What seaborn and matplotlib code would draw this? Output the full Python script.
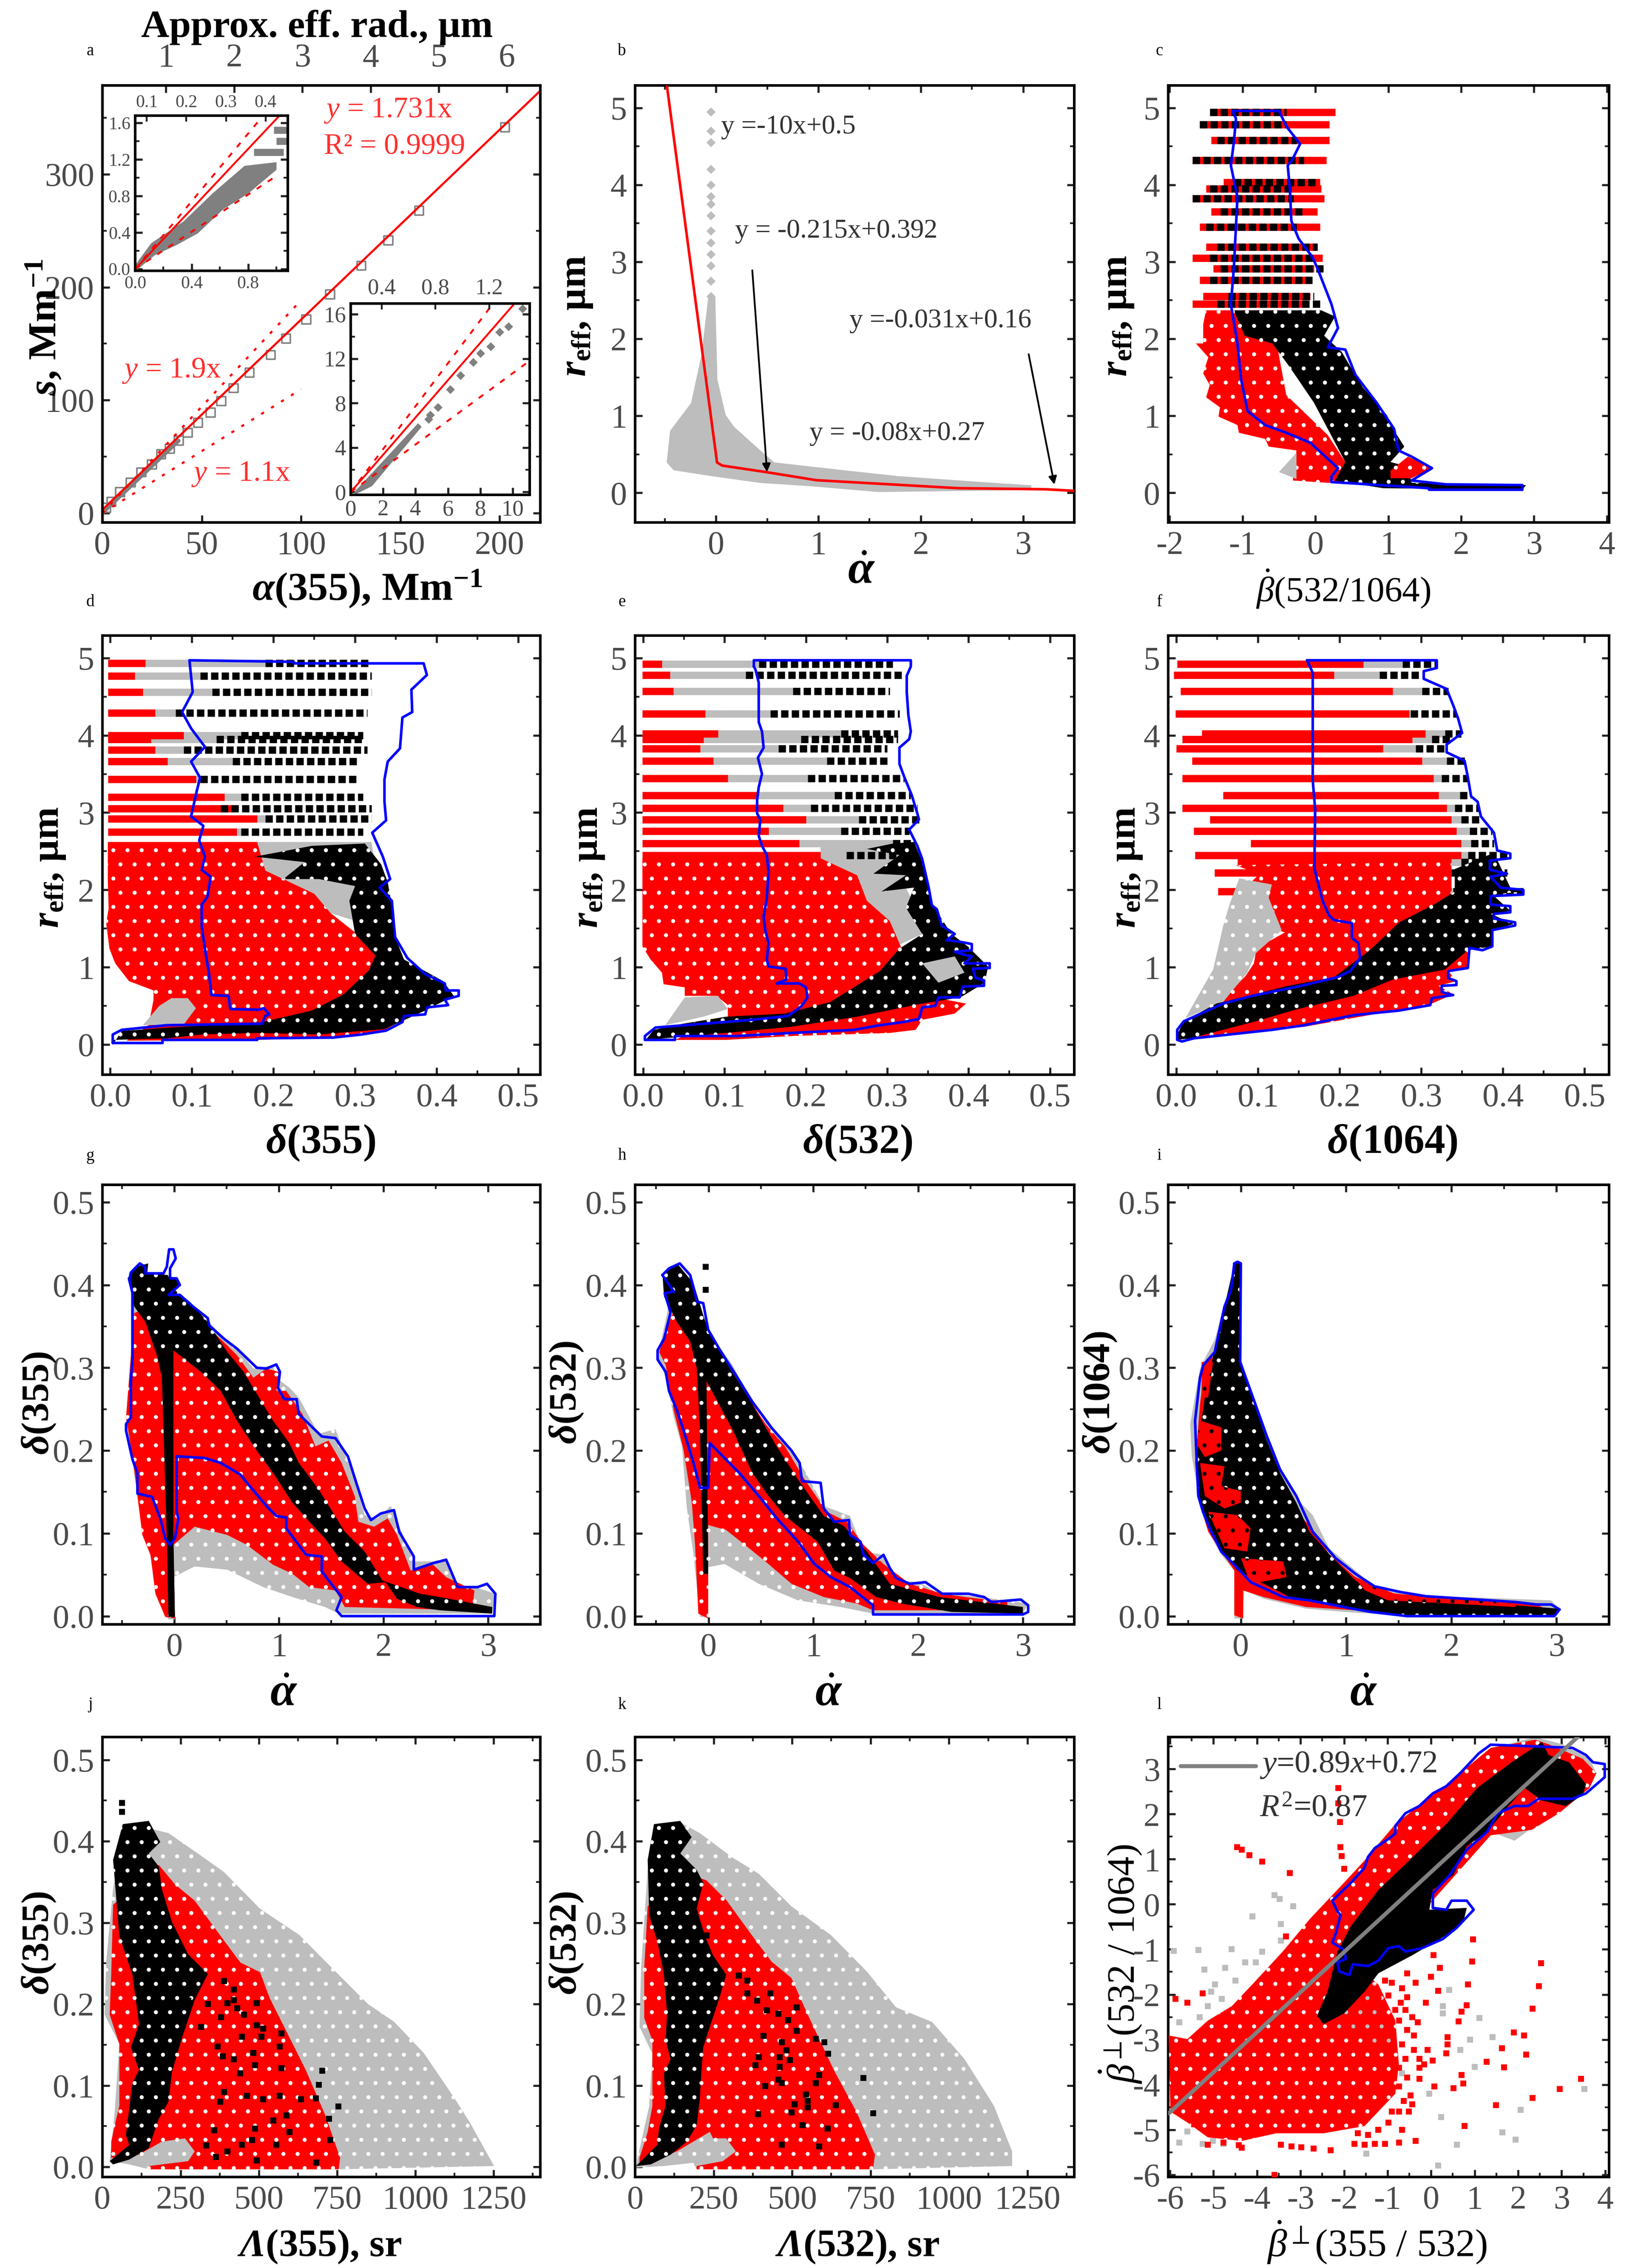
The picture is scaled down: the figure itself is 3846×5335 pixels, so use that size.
import numpy as np
import matplotlib
matplotlib.use("Agg")
import matplotlib.pyplot as plt
import seaborn as sns
from matplotlib.ticker import MultipleLocator, FixedLocator

W, H = 3846, 5335
RED = "#ff0000"
GREY = "#bdbdbd"
BLUE = "#0000ff"

# --- panel a
a_x = [202.7, 159.5, 144, 130.4, 114.6, 102.7, 92.5, 84.8, 74.1, 66, 59.8, 54.5, 48.2, 42.9, 38.4, 33.9, 29.5, 25, 19.6, 14.3, 8.9, 4.5, 1.8]
a_y = [341.6, 267.8, 241.5, 219, 193.6, 171.5, 154.4, 140, 124.3, 110.6, 99, 89, 80, 71, 64, 57, 52, 43, 36, 27, 18.5, 9.8, 4.5]
a_low_x = [0, 38.4]
a_low_y = [0, 64]
a_fit_x = [0, 220.5]
a_fit_y = [3, 374]
a_up_x = [0, 99]
a_up_y = [0, 186.5]
a_lo_x = [0, 100]
a_lo_y = [0, 109.6]

in1_grey = [(0, .043), (.114, .283), (.343, .522), (.546, .826), (.774, 1.13), (1.0, 1.17), (1.0, 1.087), (.8, .826), (.622, .652), (.444, .391), (.292, .261), (.14, .152), (.013, -.01)]
in1_lev = [1.52, 1.4, 1.28]
in1_lev_x0 = [.98, 1.0, .84]
in1_lev_x1 = [1.08, 1.08, 1.05]
in1_fit_x = [0, 1.015]
in1_fit_y = [0, 1.67]
in1_up_x = [0, .9]
in1_up_y = [0, 1.67]
in1_lo_x = [0, 1.0]
in1_lo_y = [0, 1.02]

in2_grey = [(.22, 0), (4.16, 6.2), (4.38, 5.87), (1.31, .53), (.33, -.18)]
in2_x = [4.81, 4.9, 5.38, 6.13, 6.78, 7.55, 8.0, 8.64, 9.19, 9.74, 10.6]
in2_y = [6.58, 6.94, 7.65, 9.25, 10.5, 11.7, 12.5, 13.1, 14.4, 14.9, 16.5]
in2_fit_x = [0, 10.07]
in2_fit_y = [0, 16.9]
in2_up_x = [0, 8.75]
in2_up_y = [0, 16.9]
in2_lo_x = [0, 10.94]
in2_lo_y = [0, 11.7]

# --- panel b
b_grey = [(-.075, 2.55), (-.007, 2.55), (.014, 1.47), (.095, 1.01), (.177, .857), (.434, .55), (.57, .395), (1.25, .293), (1.79, .216), (2.61, .139), (3.08, .098), (3.08, .036), (1.59, .01), (.91, .087), (.434, .128), (-.04, .216), (-.414, .293), (-.482, .395), (-.448, .806), (-.244, 1.165), (-.143, 1.78)]
b_spike_y = [4.95, 4.7, 4.55, 4.2, 4.0, 3.85, 3.75, 3.6, 3.4, 3.25, 3.1, 2.95, 2.75, 2.55]
b_spike_x = [-.05] * len(b_spike_y)
b_line_x = [-.48, .01, .06, .5, .98, 2.37, 3.22, 3.5]
b_line_y = [5.29, .395, .354, .267, .164, .06, .046, .026]

# --- panel c: one row per size level
c_lev = [4.94, 4.78, 4.58, 4.32, 4.03, 3.95, 3.82, 3.65, 3.45, 3.19, 3.05, 2.91, 2.76, 2.55, 2.45]
c_start = [-1.45, -1.59, -1.43, -1.69, -1.26, -1.5, -1.69, -1.43, -1.59, -1.5, -1.69, -1.4, -1.59, -1.54, -1.69]
c_red_end = [.27, .19, .19, .15, .06, .08, .12, .03, .06, .03, .1, -.02, -.07, -.07, -.11]
c_blk_start = [-1.45, -1.59, -1.35, -1.69, -1.12, -1.45, -1.69, -1.3, -1.5, -1.35, -1.45, -1.3, -1.45, -1.2, -1.35]
c_blk_end = [-.4, -.4, -.26, -.16, .03, -.3, -.3, -.16, -.26, .03, -.02, .12, -.04, -.02, .08]
c_red = [(-1.5, 2.37), (-1.54, 2.19), (-1.54, 1.94), (-1.64, 1.94), (-1.47, 1.76), (-1.54, 1.55), (-1.45, 1.4), (-1.5, 1.24), (-1.31, 1.11), (-1.33, .99), (-1.07, .88), (-1.05, .78), (-.69, .7), (-.64, .6), (-.26, .55), (-.31, .16), (.17, .13), (.74, .13), (.41, .4), (.17, .75), (-.4, 1.27), (-.5, 1.78), (-.59, 2.37)]
c_grey = [(-.5, .27), (-.26, .52), (-.26, .18)]
c_black = [(-1.12, 2.37), (-.97, 2.04), (-.59, 1.94), (-.35, 1.63), (-.02, 1.17), (.41, .4), (.27, .16), (.93, .06), (2.84, .04), (2.89, .1), (1.32, .13), (1.27, .34), (1.03, .4), (1.22, .6), (1.08, .81), (.98, 1.01), (.65, 1.37), (.36, 1.83), (.12, 2.04), (.27, 2.29), (.08, 2.37)]
c_patch = [(1.03, .29), (1.27, .47), (1.6, .32), (1.32, .19), (1.03, .19)]
c_blue = [(-1.14, 4.96), (-.5, 4.96), (-.4, 4.76), (-.21, 4.53), (-.32, 4.32), (-.38, 4.25), (-.35, 3.94), (-.33, 3.53), (-.23, 3.3), (-.04, 3.06), (.03, 2.91), (.22, 2.45), (.31, 2.14), (.17, 1.89), (.41, 1.86), (.55, 1.53), (.84, 1.17), (1.08, .83), (1.14, .55), (1.32, .47), (1.6, .32), (1.32, .16), (1.79, .11), (2.84, .1), (2.84, .04), (1.56, .04), (1.56, .06), (.22, .14), (.22, .21), (.31, .32), (-.07, .65), (-.4, .78), (-.69, .88), (-.93, 1.06), (-1.02, 1.47), (-1.07, 1.94), (-1.16, 2.45), (-1.12, 2.91), (-1.07, 3.84), (-1.16, 4.25), (-1.12, 4.55), (-1.09, 4.86)]

# --- panel d
d_lev = [4.93, 4.77, 4.56, 4.29, 4.0, 3.95, 3.81, 3.66, 3.43, 3.2, 3.05, 2.92, 2.75]
d_start = [-.003] * len(d_lev)
d_red_end = [.043, .03, .04, .055, .09, .05, .055, .07, .105, .14, .15, .18, .155]
d_blk_start = [.19, .11, .125, .08, .16, .13, .09, .15, .11, .16, .135, .19, .16]
d_blk_end = [.316, .32, .32, .315, .31, .31, .315, .305, .305, .31, .32, .32, .31]
d_grey = [(.18, 2.62), (.32, 2.62), (.33, 2.0), (.3, 1.6), (.27, 1.7), (.24, 1.9), (.19, 2.25)]
d_red = [(-.003, 2.62), (-.003, 2.1), (-.002, 1.76), (-.005, 1.57), (-.001, 1.24), (.006, 1.05), (.023, .82), (.053, .7), (.053, .58), (.047, .25), (.02, .05), (.18, .06), (.27, .09), (.33, .15), (.36, .33), (.38, .44), (.325, 1.15), (.3, 1.45), (.27, 1.7), (.25, 1.95), (.19, 2.25), (.18, 2.62)]
d_pocket = [(.04, .25), (.06, .5), (.075, .6), (.095, .6), (.105, .47), (.09, .26)]
d_black = [(.005, .03), (.014, .175), (.073, .22), (.186, .29), (.247, .44), (.286, .65), (.317, .96), (.325, 1.15), (.3, 1.43), (.293, 1.86), (.3, 2.05), (.256, 2.14), (.212, 2.14), (.238, 2.36), (.177, 2.43), (.247, 2.57), (.312, 2.6), (.332, 2.33), (.34, 2.1), (.345, 1.8), (.349, 1.39), (.36, 1.1), (.408, .82), (.421, .63), (.386, .44), (.336, .2), (.256, .13), (.18, .15), (.112, .13), (.069, .08), (.003, .06)]
d_blue = [(.003, .02), (.003, .13), (.014, .19), (.069, .25), (.186, .27), (.19, .37), (.195, .39), (.188, .47), (.182, .45), (.147, .46), (.145, .63), (.124, .64), (.121, .91), (.116, 1.24), (.112, 1.53), (.112, 1.81), (.119, 1.91), (.123, 2.17), (.112, 2.26), (.116, 2.43), (.109, 2.64), (.114, 2.83), (.099, 2.95), (.106, 3.28), (.11, 3.45), (.099, 3.66), (.116, 3.85), (.099, 4.09), (.088, 4.3), (.101, 4.56), (.097, 4.97), (.225, 4.95), (.225, 4.93), (.384, 4.93), (.388, 4.78), (.369, 4.59), (.37, 4.3), (.358, 4.23), (.355, 3.83), (.34, 3.66), (.336, 3.43), (.336, 3.14), (.338, 2.9), (.321, 2.74), (.334, 2.43), (.343, 2.14), (.33, 2.03), (.345, 1.86), (.349, 1.39), (.364, 1.12), (.386, .91), (.41, .79), (.411, .7), (.427, .7), (.427, .63), (.41, .58), (.414, .51), (.388, .48), (.386, .39), (.36, .37), (.358, .29), (.338, .18), (.308, .13), (.273, .09), (.18, .08), (.18, .06), (.064, .06), (.064, .02)]

# --- panel e
e_lev = [4.92, 4.78, 4.57, 4.28, 4.02, 3.95, 3.83, 3.67, 3.44, 3.22, 3.06, 2.91, 2.76, 2.6, 2.45]
e_start = [-.001] * len(e_lev)
e_red_end = [.023, .033, .037, .076, .092, .074, .07, .086, .104, .14, .172, .2, .154, .192, .218]
e_blk_start = [.142, .126, .184, .156, .243, .194, .166, .226, .202, .235, .206, .265, .243, .307, .25]
e_blk_end = [.307, .319, .303, .315, .313, .313, .3, .303, .321, .329, .337, .339, .327, .333, .339]
e_red = [(-.001, 2.41), (-.001, 1.27), (.009, 1.1), (.023, .93), (.025, .78), (.051, .74), (.051, .63), (.09, .63), (.104, .51), (.104, .36), (.039, .06), (.102, .06), (.182, .11), (.303, .15), (.335, .19), (.343, .32), (.383, .4), (.397, .53), (.367, .59), (.331, .89), (.315, 1.31), (.303, 1.6), (.275, 1.86), (.263, 2.19), (.218, 2.41)]
e_pocket = [(.027, .25), (.051, .61), (.092, .63), (.104, .46), (.074, .36)]
e_grey = [(.218, 2.6), (.323, 2.6), (.331, 2.36), (.323, 2.03), (.335, 1.77), (.343, 1.43), (.315, 1.29), (.303, 1.6), (.275, 1.86), (.263, 2.19), (.218, 2.41)]
e_black = [(.003, .06), (.013, .19), (.049, .27), (.102, .36), (.174, .4), (.23, .55), (.291, .95), (.315, 1.24), (.343, 1.43), (.323, 1.77), (.333, 2.03), (.293, 1.98), (.323, 2.19), (.283, 2.21), (.303, 2.36), (.315, 2.45), (.275, 2.53), (.307, 2.6), (.333, 2.62), (.343, 2.36), (.351, 2.1), (.355, 1.82), (.379, 1.43), (.399, 1.27), (.424, 1.01), (.42, .8), (.39, .61), (.343, .53), (.263, .36), (.182, .23), (.102, .15)]
e_streak = [(.343, 1.05), (.383, 1.14), (.395, .93), (.363, .8)]
e_blue = [(.136, 4.89), (.136, 4.97), (.329, 4.97), (.329, 4.89), (.324, 4.77), (.324, 4.56), (.326, 4.26), (.329, 4.05), (.327, 3.95), (.315, 3.84), (.315, 3.63), (.321, 3.46), (.33, 3.23), (.337, 2.99), (.339, 2.91), (.327, 2.78), (.337, 2.57), (.343, 2.4), (.351, 2.03), (.355, 1.8), (.361, 1.75), (.367, 1.54), (.383, 1.43), (.373, 1.35), (.389, 1.33), (.404, 1.3), (.404, 1.22), (.383, 1.2), (.395, 1.16), (.404, 1.14), (.395, 1.05), (.426, 1.05), (.426, .99), (.405, .98), (.409, .86), (.419, .83), (.419, .76), (.393, .75), (.389, .61), (.363, .61), (.359, .5), (.343, .48), (.339, .33), (.319, .29), (.291, .25), (.259, .19), (.222, .17), (.182, .15), (.114, .11), (.039, .11), (.039, .06), (.002, .06), (.002, .11), (.015, .22), (.051, .25), (.134, .32), (.178, .37), (.194, .49), (.202, .61), (.2, .74), (.192, .79), (.164, .79), (.176, .84), (.175, .98), (.154, 1.01), (.152, 1.1), (.154, 1.31), (.15, 1.48), (.148, 1.65), (.152, 1.9), (.154, 2.24), (.152, 2.45), (.146, 2.57), (.142, 2.7), (.144, 2.91), (.14, 2.99), (.14, 3.16), (.142, 3.33), (.146, 3.5), (.141, 3.71), (.148, 3.84), (.146, 4.05), (.142, 4.17), (.142, 4.68), (.138, 4.85)]

# --- panel f
f_lev = [4.92, 4.78, 4.57, 4.28, 4.02, 3.95, 3.83, 3.67, 3.44, 3.22, 3.06, 2.91, 2.76, 2.6, 2.45, 2.36, 2.22, 1.98]
f_start = [.001, -.003, .005, -.001, .031, .007, 0, .019, .007, .057, .007, .041, .021, .091, .023, .075, .047, .051]
f_red_end = [.229, .193, .265, .285, .305, .289, .253, .301, .315, .321, .331, .337, .343, .349, .349, .337, .331, .337]
f_blk_start = [.277, .249, .301, .287, .329, .313, .293, .331, .325, .347, .341, .349, .359, .361, .357, .349, .337, .339]
f_blk_end = [.319, .301, .333, .343, .349, .337, .331, .357, .357, .361, .371, .375, .387, .389, .407, .389, .405, .425]
f_red = [(.073, 2.32), (.101, 2.2), (.085, 2.03), (.113, 1.95), (.091, 1.79), (.121, 1.73), (.095, 1.58), (.133, 1.45), (.109, 1.31), (.097, 1.18), (.095, 1.05), (.085, .89), (.073, .76), (.057, .55), (.017, .15), (.021, .08), (.065, .13), (.157, .23), (.257, .42), (.313, .53), (.339, .65), (.321, .76), (.343, .82), (.333, .95), (.357, .99), (.359, 1.18), (.337, 1.31), (.337, 1.73), (.337, 2.36)]
f_grey = [(.011, .34), (.045, .97), (.057, 1.52), (.065, 1.81), (.077, 2.15), (.117, 2.07), (.113, 1.9), (.129, 1.48), (.097, 1.18), (.087, .93), (.057, .55)]
f_black = [(.001, .13), (.009, .3), (.049, .53), (.137, .76), (.193, .87), (.237, 1.22), (.273, 1.58), (.317, 1.82), (.341, 1.98), (.341, 2.27), (.389, 2.48), (.409, 2.03), (.425, 1.98), (.387, 1.94), (.409, 1.73), (.385, 1.69), (.413, 1.56), (.387, 1.48), (.387, 1.27), (.357, 1.22), (.329, .97), (.265, .84), (.217, .63), (.149, .46), (.097, .3), (.017, .08), (.001, .06)]
f_blue = [(.16, 4.97), (.319, 4.97), (.319, 4.87), (.303, 4.83), (.303, 4.73), (.331, 4.6), (.339, 4.39), (.345, 4.22), (.35, 4.03), (.331, 3.88), (.331, 3.78), (.353, 3.67), (.357, 3.46), (.361, 3.21), (.369, 3.14), (.373, 2.95), (.389, 2.74), (.393, 2.51), (.409, 2.47), (.409, 2.41), (.384, 2.38), (.384, 2.26), (.405, 2.21), (.385, 2.17), (.397, 2.03), (.425, 2.0), (.425, 1.94), (.385, 1.92), (.385, 1.81), (.409, 1.79), (.409, 1.71), (.389, 1.69), (.389, 1.63), (.415, 1.58), (.415, 1.54), (.387, 1.48), (.387, 1.27), (.375, 1.22), (.359, 1.25), (.357, .99), (.333, .95), (.333, .86), (.343, .82), (.343, .77), (.325, .76), (.325, .68), (.339, .64), (.313, .6), (.311, .51), (.273, .44), (.217, .38), (.157, .25), (.117, .19), (.065, .13), (.021, .08), (.007, .04), (.001, .06), (.001, .19), (.009, .3), (.057, .53), (.093, .63), (.153, .76), (.197, .87), (.213, .95), (.225, 1.12), (.223, 1.31), (.215, 1.38), (.215, 1.57), (.193, 1.61), (.187, 1.67), (.179, 1.86), (.173, 2.11), (.169, 2.28), (.17, 3.04), (.167, 3.42), (.167, 4.81)]

# --- panel g
g_grey = [(-.416, .392), (-.416, .264), (-.462, .232), (-.4, .185), (-.353, .149), (-.291, .098), (-.213, .066), (-.15, .023), (-.056, -.004), (.006, -.004), (-.009, .047), (.194, .06), (.506, .056), (.85, .035), (1.13, .023), (1.44, .011), (1.57, .003), (3.04, .003), (3.07, .027), (2.88, .035), (2.69, .035), (2.6, .07), (2.475, .066), (2.29, .066), (2.16, .106), (2.07, .133), (1.94, .118), (1.82, .122), (1.725, .165), (1.54, .226), (1.38, .22), (1.19, .264), (1.1, .276), (.975, .288), (.944, .303), (.756, .299), (.6, .323), (.444, .339), (.256, .367), (.04, .384), (.006, .406), (-.275, .414)]
g_red = [(-.009, .086), (.194, .108), (.506, .098), (.694, .086), (.944, .062), (1.13, .051), (1.29, .035), (1.54, .031), (1.63, .011), (2.85, .007), (2.87, .031), (2.6, .047), (2.475, .062), (2.26, .055), (2.13, .098), (2.04, .118), (1.91, .108), (1.76, .114), (1.725, .145), (1.6, .185), (1.475, .212), (1.35, .205), (1.225, .244), (1.07, .272), (.975, .272), (1.0, .295), (.88, .299), (.756, .288), (.6, .315), (.506, .327), (.006, .386), (-.384, .366), (-.462, .24), (-.4, .193), (-.353, .145), (-.306, .098), (-.228, .074), (-.181, .027), (-.087, -.001), (.006, -.003)]
g_bar = [(-.166, .315), (-.009, .321), (-.009, .098), (.006, -.001), (-.056, -.001), (-.072, .098), (-.103, .224), (-.119, .288)]
g_black = [(-.447, .408), (-.369, .422), (-.25, .426), (-.259, .414), (-.056, .412), (.053, .404), (.022, .39), (.147, .38), (.319, .355), (.506, .319), (.663, .295), (.944, .236), (1.1, .209), (1.19, .185), (1.38, .153), (1.63, .102), (1.725, .09), (1.82, .078), (1.99, .043), (2.26, .031), (2.35, .027), (2.54, .023), (3.04, .011), (3.04, .003), (2.54, .007), (2.32, .011), (2.13, .021), (2.02, .041), (1.85, .039), (1.6, .066), (1.44, .094), (1.32, .11), (1.13, .137), (.944, .173), (.7875, .2), (.6, .236), (.444, .272), (.256, .295), (-.009, .321), (-.166, .315), (-.275, .355), (-.384, .374), (-.416, .394)]
g_blue = [(-.431, .406), (-.416, .415), (-.331, .426), (-.281, .422), (-.275, .414), (-.103, .414), (-.072, .422), (-.05, .443), (-.009, .443), (.013, .432), (-.041, .42), (-.041, .408), (.022, .408), (.053, .4), (-.056, .388), (.053, .388), (.178, .374), (.319, .36), (.334, .351), (.475, .335), (.6, .323), (.788, .3), (.881, .299), (.975, .304), (1.01, .295), (.991, .276), (1.05, .262), (1.17, .262), (1.19, .244), (1.41, .217), (1.54, .215), (1.66, .193), (1.74, .161), (1.82, .13), (1.88, .116), (1.975, .124), (2.1, .128), (2.15, .102), (2.29, .072), (2.29, .056), (2.475, .064), (2.6, .068), (2.71, .035), (2.9, .035), (2.99, .039), (3.07, .027), (3.06, 0), (1.6, 0), (1.55, .007), (1.6, .023), (1.5, .039), (1.41, .054), (1.41, .072), (1.26, .074), (1.07, .106), (1.07, .119), (.975, .121), (.881, .133), (.694, .161), (.631, .171), (.444, .185), (.288, .191), (.022, .193), (.022, .126), (.038, .118), (.006, .094), (-.041, .086), (-.088, .094), (-.134, .118), (-.213, .144), (-.353, .148), (-.353, .173), (-.4, .189), (-.462, .224), (-.462, .232), (-.416, .24), (-.416, .283), (-.4, .311), (-.4, .39)]

# --- panel h
h_grey = [(-.408, .358), (-.486, .314), (-.408, .288), (-.331, .24), (-.253, .205), (-.206, .13), (-.143, .074), (-.081, -.001), (-.003, -.001), (-.003, .059), (.153, .063), (.48, .039), (.854, .019), (1.26, .011), (1.57, .003), (3.0, .003), (3.05, .015), (2.85, .019), (2.45, .025), (2.2, .027), (2.01, .041), (1.82, .043), (1.67, .074), (1.48, .078), (1.35, .121), (1.1, .133), (.917, .176), (.698, .216), (.48, .243), (.231, .303), (-.019, .347), (-.143, .383), (-.299, .426)]
h_red = [(-.408, .343), (-.47, .319), (-.408, .303), (-.331, .248), (-.237, .2), (-.159, .137), (-.128, .086), (-.097, .003), (-.003, -.003), (-.003, .11), (.168, .104), (.387, .082), (.543, .066), (.792, .039), (1.1, .023), (1.42, .015), (1.57, .007), (2.85, .007), (2.85, .017), (2.45, .023), (2.23, .027), (1.92, .039), (1.67, .063), (1.48, .086), (1.32, .114), (1.13, .126), (.917, .165), (.73, .205), (.543, .232), (-.019, .343), (-.33, .37)]
h_black = [(-.44, .414), (-.299, .426), (-.143, .402), (-.019, .351), (.168, .307), (.418, .256), (.636, .208), (.854, .165), (1.1, .121), (1.29, .109), (1.51, .078), (1.73, .039), (2.2, .023), (3.0, .011), (3.0, .003), (2.32, .005), (2.04, .011), (1.85, .015), (1.6, .023), (1.35, .046), (1.2, .055), (1.04, .09), (.73, .121), (.574, .145), (.418, .173), (.231, .225), (-.019, .284), (-.003, .051), (-.05, .051), (-.081, .225), (-.112, .3), (-.175, .332), (-.299, .355), (-.424, .386)]
h_pts_x = [-.025, -.025]
h_pts_y = [.422, .394]
h_blue = [(-.44, .412), (-.377, .42), (-.274, .426), (-.175, .412), (-.128, .39), (-.112, .38), (-.05, .378), (-.003, .346), (.106, .322), (.262, .291), (.418, .259), (.605, .227), (.792, .2), (.87, .185), (.892, .163), (1.07, .161), (1.1, .13), (1.2, .114), (1.34, .116), (1.35, .098), (1.45, .09), (1.48, .074), (1.57, .064), (1.67, .074), (1.73, .058), (1.79, .046), (1.92, .039), (2.07, .041), (2.23, .027), (2.48, .027), (2.63, .023), (2.7, .017), (2.98, .02), (3.05, .013), (3.05, .005), (3.0, .002), (1.57, .002), (1.57, .013), (1.35, .035), (1.17, .047), (1.01, .063), (.854, .09), (.652, .118), (.48, .145), (.293, .173), (.012, .209), (-.003, .155), (-.081, .155), (-.143, .185), (-.237, .224), (-.299, .248), (-.377, .272), (-.408, .295), (-.486, .31), (-.486, .321), (-.424, .335), (-.362, .367), (-.418, .39), (-.331, .392)]

# --- panel i
i_grey = [(-.031, .424), (-.016, .316), (.016, .304), (.093, .272), (.248, .217), (.373, .177), (.528, .142), (.683, .122), (.839, .082), (1.09, .055), (1.27, .035), (1.46, .029), (1.71, .025), (2.95, .019), (3.03, .009), (2.98, .001), (1.55, .001), (1.09, .004), (.621, .009), (.217, .021), (.031, .031), (.022, -.003), (-.062, -.003), (-.062, .055), (-.186, .074), (-.31, .102), (-.388, .137), (-.466, .193), (-.481, .232), (-.388, .299), (-.342, .311), (-.248, .334), (-.093, .406)]
i_red = [(-.28, .315), (-.342, .303), (-.388, .256), (-.419, .205), (-.435, .185), (-.388, .134), (-.31, .102), (-.186, .078), (-.062, .055), (-.062, .001), (.022, -.003), (.022, .031), (.217, .023), (.621, .011), (1.09, .007), (2.64, .005), (2.89, .009), (2.83, .013), (2.61, .017), (1.71, .023), (1.37, .029), (1.09, .047), (.839, .075), (.652, .11), (.497, .129), (.404, .129)]
i_black = [(-.062, .426), (-.006, .426), (-.006, .303), (.093, .268), (.248, .212), (.373, .173), (.528, .137), (.652, .102), (.839, .075), (1.09, .043), (1.27, .031), (1.71, .019), (2.61, .013), (3.02, .009), (2.98, .001), (1.58, .001), (1.15, .007), (.776, .015), (.466, .023), (.217, .039), (-.031, .055), (-.186, .078), (-.295, .102), (-.388, .137), (-.419, .165), (-.419, .193), (-.388, .224), (-.342, .264), (-.28, .303), (-.248, .326), (-.155, .374)]
i_patch1 = [(-.388, .236), (-.186, .228), (-.186, .2), (-.342, .192), (-.419, .208)]
i_patch2 = [(-.388, .185), (-.155, .181), (-.186, .157), (0, .151), (0, .137), (-.155, .13), (-.342, .145)]
i_patch3 = [(-.31, .126), (-.031, .122), (.093, .106), (.062, .078), (-.155, .082)]
i_patch4 = [(0, .07), (.404, .066), (.435, .047), (.093, .039)]
i_patch5 = [(-.373, .307), (-.264, .307), (-.31, .264), (-.373, .264)]
i_patch6 = [(1.06, .049), (1.18, .031), (1.4, .019), (2.61, .011), (2.61, .017), (1.46, .027)]
i_blue = [(-.062, .426), (-.031, .428), (0, .426), (-.006, .307), (.093, .272), (.248, .217), (.373, .177), (.528, .145), (.683, .102), (.901, .07), (1.09, .051), (1.27, .036), (1.52, .029), (1.76, .024), (2.61, .017), (2.81, .014), (2.95, .014), (3.03, .008), (2.98, 0), (1.58, 0), (1.24, .005), (1.06, .009), (.652, .019), (.404, .023), (.093, .041), (-.031, .058), (-.186, .078), (-.295, .106), (-.357, .125), (-.404, .145), (-.419, .185), (-.435, .236), (-.388, .288), (-.357, .303), (-.248, .319), (-.155, .374), (-.093, .394)]

# --- panel j
j_grey = [(34, .342), (54, .382), (127, .418), (211, .41), (316, .382), (389, .362), (504, .317), (629, .285), (745, .24), (849, .2), (933, .178), (1027, .14), (1121, .087), (1174, .055), (1252, .001), (755, -.003), (148, -.003), (86, .003), (23, .007), (39, .067), (54, .151), (7, .187), (12, .252)]
j_red = [(34, .322), (28, .236), (23, .187), (54, .151), (54, .075), (44, .059), (28, .031), (28, .011), (117, .015), (190, .031), (264, .035), (295, .019), (274, .007), (148, .001), (148, -.003), (755, -.003), (760, .011), (713, .063), (650, .119), (577, .175), (535, .207), (504, .239), (441, .251), (379, .283), (295, .327), (232, .347), (180, .371), (86, .339)]
j_black = [(23, .007), (86, .027), (75, .039), (96, .103), (117, .119), (91, .147), (117, .175), (96, .236), (54, .284), (34, .377), (65, .421), (148, .425), (185, .399), (148, .385), (180, .369), (190, .341), (222, .301), (274, .261), (337, .237), (295, .205), (253, .157), (222, .116), (211, .08), (180, .059), (148, .023), (86, .009), (34, .003)]
j_pts_x = [62, 62, 703, 692, 755, 724, 729, 682, 684, 494, 389, 376, 635, 588, 598, 556, 478, 446, 399, 363, 331, 358, 488, 546, 567, 514, 462, 441, 488, 572, 483, 384, 420, 368, 446, 509, 572, 567, 494, 514, 494, 431, 452, 420, 399, 337, 379, 316, 274, 316, 420, 389]
j_pts_y = [.447, .436, .118, .101, .074, .059, .033, .084, .005, .008, .092, .08, .083, .063, .043, .027, .033, .027, .019, .012, .026, .045, .047, .057, .087, .083, .087, .115, .125, .121, .14, .136, .132, .148, .16, .16, .164, .148, .174, .17, .201, .195, .187, .205, .201, .2, .184, .172, .204, .238, .218, .228]

# --- panel k
k_grey = [(40, .365), (60, .42), (149, .422), (206, .41), (310, .38), (394, .36), (498, .32), (623, .285), (738, .24), (831, .196), (946, .178), (1050, .132), (1143, .075), (1201, .019), (1201, .001), (758, -.003), (196, -.003), (185, .005), (92, .001), (3, -.001), (8, .011), (45, .075), (55, .139), (14, .172), (19, .244)]
k_red = [(40, .32), (29, .244), (29, .183), (55, .155), (55, .075), (40, .043), (14, .011), (14, .001), (133, .019), (238, .043), (248, .035), (290, .035), (321, .019), (279, .007), (196, .001), (196, -.003), (758, -.003), (764, .015), (706, .067), (633, .119), (550, .187), (498, .232), (435, .252), (373, .284), (290, .328), (227, .352), (165, .36)]
k_black = [(3, .001), (71, .027), (76, .047), (97, .075), (92, .115), (113, .132), (97, .156), (102, .188), (92, .236), (71, .277), (45, .309), (40, .377), (60, .421), (144, .425), (180, .405), (144, .385), (196, .365), (217, .349), (196, .317), (222, .284), (248, .26), (290, .236), (269, .208), (238, .172), (217, .147), (211, .116), (206, .083), (196, .051), (165, .031), (113, .015), (50, .003)]
k_pts_x = [727, 758, 639, 586, 576, 545, 550, 550, 508, 391, 498, 534, 613, 467, 586, 415, 467, 456, 461, 383, 461, 493, 394, 467, 482, 409, 514, 576, 602, 615, 487, 456, 514, 420, 389, 357, 430, 331, 357, 227]
k_pts_y = [.109, .066, .076, .113, .103, .089, .081, .073, .077, .065, .067, .051, .047, .027, .025, .099, .103, .107, .123, .125, .135, .131, .135, .153, .143, .161, .167, .157, .153, .139, .18, .188, .196, .192, .204, .213, .213, .235, .229, .284]

# --- panel l
l_grey = [(1.37, 1.61), (1.92, 1.41), (2.31, 1.69), (2.94, 2.02), (3.64, 2.58), (3.8, 2.91), (3.64, 3.23), (3.02, 3.55), (2.39, 3.71), (1.76, 3.55)]
l_red = [(-6.03, -2.91), (-5.99, -4.6), (-5.6, -4.84), (-5.13, -5.17), (-4.35, -5.25), (-3.56, -5.08), (-2.47, -5.08), (-1.53, -4.92), (-.82, -4.2), (-.74, -3.55), (-.82, -2.58), (-1.21, -1.78), (-2.0, -1.13), (-.04, 0), (1.37, 1.53), (2.31, 1.65), (2.94, 2.02), (3.64, 2.58), (3.8, 2.91), (3.48, 3.23), (2.7, 3.55), (2.39, 3.65), (1.37, 3.47), (.35, 2.66), (-.82, 1.78), (-1.53, .97), (-2.0, .48), (-2.78, -.32), (-3.41, -1.05), (-4.11, -1.78), (-4.58, -2.26), (-5.13, -2.58), (-5.6, -2.99)]
l_mix = [(-1.68, -1.78), (-1.21, -1.78), (-.82, -3.07), (-1.21, -3.23), (-1.61, -2.74), (-2.15, -3.07), (-2.39, -2.66)]
l_black = [(-2.62, -2.47), (-2.38, -1.94), (-2.15, -1.05), (-1.84, -.48), (-1.21, .32), (-.59, .89), (.35, 1.78), (1.06, 2.58), (1.85, 3.15), (2.55, 3.6), (2.7, 3.31), (3.17, 3.15), (3.56, 2.66), (3.48, 2.42), (3.09, 2.18), (2.55, 2.3), (2.15, 2.58), (1.85, 2.26), (1.29, 1.61), (.82, 1.29), (.51, .65), (.04, .32), (-.04, -.12), (.82, -.08), (.74, -.4), (.27, -.73), (-.43, -1.13), (-1.21, -1.53), (-1.53, -1.94), (-2.0, -2.42), (-2.47, -2.66)]
l_blue = [(1.37, 3.54), (1.1, 3.35), (.67, 2.91), (.35, 2.62), (.04, 2.46), (-.27, 2.18), (-.59, 2.02), (-.82, 1.74), (-.82, 1.57), (-.98, 1.45), (-1.29, 1.25), (-1.45, 1.05), (-1.53, .81), (-1.84, .48), (-2.27, .08), (-2.15, -.16), (-2.08, -.24), (-2.19, -.65), (-2.27, -.85), (-2.0, -1.01), (-1.96, -1.21), (-2.15, -1.29), (-2.11, -1.49), (-1.88, -1.57), (-1.8, -1.33), (-1.45, -1.37), (-1.21, -1.25), (-.98, -.97), (-.74, -.93), (-.59, -1.05), (-.2, -.97), (.27, -.77), (.59, -.52), (.98, -.12), (.82, .08), (.47, .08), (.35, -.12), (.04, -.08), (.04, .24), (.43, .65), (.82, 1.21), (1.29, 1.61), (1.53, 2.02), (1.92, 2.18), (2.23, 2.18), (2.47, 2.34), (3.25, 2.34), (3.56, 2.46), (3.99, 2.82), (3.99, 3.11), (3.72, 3.15), (3.56, 3.31), (3.25, 3.47)]
l_red_x = [-2.13, -2.13, -2.09, -4.46, -4.35, -4.17, -3.88, -3.25, -2.08, -2.05, -2.0, -3.33, .96, .94, 2.53, 2.48, .85, .82, .7, .63, 2.33, 1.9, 2.14, 2.19, 1.63, 1.28, 1.68, 3.45, 2.96, 2.33, 1.49, .77, .51, .74, .7, .08, -.27, -.47, -.74, -.67, -.35, -.74, -1.06, -1.29, -1.53, -1.76, -2.31, -2.7, -2.98, -3.21, -3.45, -4.42, -3.6, .38, .38, -.08, -.27, .04, .35, .16, 0, .2, .06, -.9, -.55, -.35, -.55, -.12, -.43, -.31, -.39, -5.25, -5.6, -5.87,
           -.7, -.59, -.74, -.55, -.67, -.39, -.59, -.74, -.55, -.74, -.63, -.9, -.98, -1.21, -1.45, -1.68, -.51, -.43, -.27, -.16, -.67, -.98, -1.21, -.82, -1.06, -5.44, -5.13, -4.97, -4.77, -4.35]
l_red_y = [2.58, 2.24, 1.82, 1.27, 1.21, 1.09, .95, .69, 1.27, 1.07, .79, -.71, -.78, -1.27, -1.31, -1.82, -1.78, -2.24, -2.38, -2.6, -2.32, -2.84, -2.91, -3.33, -3.19, -3.49, -3.62, -3.87, -4.1, -4.3, -4.46, -4.92, -4.08, -3.98, -3.79, -4.04, -3.87, -4.24, -4.6, -5.0, -5.25, -5.29, -5.31, -5.31, -5.33, -5.31, -5.46, -5.42, -5.39, -5.37, -5.33, -5.34, -6.0, -2.95, -3.11, -3.23, -3.43, -3.47, -3.31, -1.92, -1.61, -1.41, -1.13, -1.74, -1.53, -1.74, -2.06, -2.18, -2.5, -2.62, -2.91, -1.98, -2.18, -2.1,
           -2.18, -2.34, -2.58, -2.79, -3.11, -3.23, -3.43, -3.63, -3.84, -4.04, -4.36, -4.6, -4.84, -5.0, -5.12, -5.08, -4.6, -4.44, -3.63, -3.55, -1.86, -2.02, -2.1, -2.34, -1.69, -4.88, -5.33, -5.09, -5.29, -5.4]
l_grey_x = [-3.6, -3.48, -3.17, -4.11, -3.45, -3.45, -4.58, -5.35, -5.91, -3.88, -4.27, -4.03, -5.21, -4.73, -4.5, -4.97, -5.05, -4.81, -5.13, -5.32, -5.79, .9, 1.41, 1.11, .67, 1.0, .27, .27, .42, 3.52, 2.06, 1.64, 1.94, .59, .16, -1.49, -5.79, -5.25, -5.01, -4.77, -5.6, -.67, -.04, .23]
l_grey_y = [.2, .12, -.04, -.27, -.44, -.81, -1.0, -1.01, -1.03, -1.05, -1.29, -1.29, -1.45, -1.41, -1.69, -1.78, -1.94, -2.1, -2.26, -2.5, -2.62, -3.0, -2.95, -2.52, -3.23, -3.61, -2.26, -2.42, -1.9, -4.1, -4.56, -5.06, -5.22, -5.33, -5.8, -5.53, -5.29, -5.31, -5.25, -5.31, -5.04, -3.75, -4.2, -4.72]
l_fit_x = [-6.03, 3.37]
l_fit_y = [-4.64, 3.71]
l_key_x = [-5.76, -4.03]
l_key_y = [3.07, 3.07]

sns.set_theme(style="ticks")
plt.rcParams["font.family"] = ["Liberation Serif", "DejaVu Sans"]
plt.rcParams["mathtext.fontset"] = "custom"
plt.rcParams["mathtext.rm"] = "Liberation Serif"
plt.rcParams["mathtext.it"] = "Liberation Serif:italic"
plt.rcParams["mathtext.bf"] = "Liberation Serif:bold"
plt.rcParams["mathtext.bfit"] = "Liberation Serif:italic:bold"
plt.rcParams["axes.edgecolor"] = "black"
plt.rcParams["axes.unicode_minus"] = False

fig = plt.figure(figsize=(W / 200, H / 200), dpi=200, facecolor="white")
TICK = "#4a4a4a"


def make_axes(x0, x1, y0, y1, xlim, ylim, xmaj, xmin, ymaj, ymin, size=28, xfmt=None, yfmt=None):
    ax = fig.add_axes([x0 / W, 1 - y1 / H, (x1 - x0) / W, (y1 - y0) / H])
    ax.set_xlim(xlim)
    ax.set_ylim(ylim)
    ax.xaxis.set_major_locator(FixedLocator(xmaj))
    ax.yaxis.set_major_locator(FixedLocator(ymaj))
    if xmin:
        ax.xaxis.set_minor_locator(MultipleLocator(xmin))
    if ymin:
        ax.yaxis.set_minor_locator(MultipleLocator(ymin))
    if xfmt:
        ax.set_xticklabels([xfmt % v for v in xmaj])
    if yfmt:
        ax.set_yticklabels([yfmt % v for v in ymaj])
    ax.tick_params(which="major", direction="in", top=True, right=True, length=6, width=1.8, labelsize=size, labelcolor=TICK, pad=7)
    ax.tick_params(which="minor", direction="in", top=True, right=True, length=3.5, width=1.5)
    for s in ax.spines.values():
        s.set_linewidth(2.2)
    return ax


def poly(ax, pts, color, hatch=None, hatch_color="white", z=2):
    arr = np.array(pts)
    ax.fill(arr[:, 0], arr[:, 1], facecolor=color, edgecolor=hatch_color if hatch else color,
            hatch=hatch, linewidth=0, zorder=z)


def outline(ax, pts):
    arr = np.array(pts + pts[:1])
    sns.lineplot(x=arr[:, 0], y=arr[:, 1], sort=False, estimator=None, color=BLUE, linewidth=2.2, ax=ax, zorder=6)
    ax.set(xlabel="", ylabel="")


def bands(ax, lev, start, red_end, blk_start, blk_end):
    ax.hlines(lev, start, blk_start, color=GREY, linewidth=6.2, zorder=2)
    ax.hlines(lev, start, red_end, color=RED, linewidth=6.2, zorder=3)
    ax.hlines(lev, blk_start, blk_end, color="black", linewidth=6.2, linestyles=(0, (1.0, 0.45)), zorder=4)


def points(ax, x, y, color, size=26, marker="s", z=5):
    sns.scatterplot(x=x, y=y, color=color, s=size, marker=marker, linewidth=0, ax=ax, zorder=z)
    ax.set(xlabel="", ylabel="")


def line(ax, x, y, color=RED, lw=1.8, ls="-", z=4):
    sns.lineplot(x=x, y=y, sort=False, estimator=None, color=color, linewidth=lw, linestyle=ls, ax=ax, zorder=z)
    ax.set(xlabel="", ylabel="")


def txt(x, y, s, size=26, color="black", rot=0, ha="center", weight="normal"):
    fig.text(x / W, 1 - y / H, s, fontsize=size, color=color, rotation=rot, ha=ha, va="center", fontweight=weight)


COLS = [(241, 1271), (1494, 2527), (2748, 3785)]
ROWS = [(201, 1229), (1495, 2528), (2787, 3821), (4086, 5121)]
R5 = [0, 1, 2, 3, 4, 5]
D5 = [0, .1, .2, .3, .4, .5]

# panel a
ax = make_axes(*COLS[0], *ROWS[0], (0, 220.5), (-8.4, 378.7), [0, 50, 100, 150, 200], None, [0, 100, 200, 300], 50)
ax.tick_params(axis="x", which="both", top=False)
line(ax, a_low_x, a_low_y, color="#808080", lw=3.2, z=2)
sns.scatterplot(x=a_x, y=a_y, marker="s", s=55, facecolor="none", edgecolor="#808080", linewidth=1.3, ax=ax, zorder=3)
ax.set(xlabel="", ylabel="")
line(ax, a_fit_x, a_fit_y, lw=1.8)
line(ax, a_up_x, a_up_y, lw=1.8, ls=(0, (1.5, 4)))
line(ax, a_lo_x, a_lo_y, lw=1.8, ls=(0, (1.5, 4)))
top = ax.twiny()
top.set_xlim(.07, 6.49)
top.set_xticks([1, 2, 3, 4, 5, 6])
top.tick_params(direction="in", length=6, width=1.8, labelsize=28, labelcolor=TICK, pad=10)
for s in top.spines.values():
    s.set_linewidth(2.2)

in1 = make_axes(318, 677, 272, 637, (-.0, 1.08), (-.02, 1.68), [0, .4, .8], .2, [0, .4, .8, 1.2, 1.6], .2, size=15, xfmt="%.1f", yfmt="%.1f")
poly(in1, in1_grey, "#808080", z=2)
in1.hlines(in1_lev, in1_lev_x0, in1_lev_x1, color="#808080", linewidth=6, zorder=2)
line(in1, in1_fit_x, in1_fit_y, lw=1.6)
line(in1, in1_up_x, in1_up_y, lw=1.6, ls=(0, (3, 4)))
line(in1, in1_lo_x, in1_lo_y, lw=1.6, ls=(0, (3, 4)))
in1.tick_params(axis="x", top=False, which="both", pad=4)
in1.tick_params(axis="y", pad=4)
in1_top = in1.twiny()
in1_top.set_xlim(.071, .456)
in1_top.set_xticks([.1, .2, .3, .4])
in1_top.set_xticklabels(["0.1", "0.2", "0.3", "0.4"])
in1_top.tick_params(direction="in", length=5, width=1.6, labelsize=15, labelcolor=TICK, pad=4)
for sp in in1_top.spines.values():
    sp.set_linewidth(2.0)

in2 = make_axes(825, 1246, 714, 1164, (0, 11.05), (-.25, 16.97), [0, 2, 4, 6, 8, 10], None, [0, 4, 8, 12, 16], 2, size=19)
poly(in2, in2_grey, "#808080", z=2)
points(in2, in2_x, in2_y, "#808080", size=28, marker="D", z=3)
line(in2, in2_fit_x, in2_fit_y, lw=1.6)
line(in2, in2_up_x, in2_up_y, lw=1.6, ls=(0, (3, 4)))
line(in2, in2_lo_x, in2_lo_y, lw=1.6, ls=(0, (3, 4)))
in2.tick_params(axis="x", top=False, which="both", pad=4)
in2.tick_params(axis="y", pad=4)
in2_top = in2.twiny()
in2_top.set_xlim(.167, 1.503)
in2_top.set_xticks([.4, .8, 1.2])
in2_top.set_xticklabels(["0.4", "0.8", "1.2"])
in2_top.tick_params(direction="in", length=5, width=1.6, labelsize=19, labelcolor=TICK, pad=4)
for sp in in2_top.spines.values():
    sp.set_linewidth(2.0)

# panel b
ax = make_axes(*COLS[1], *ROWS[0], (-.79, 3.5), (-.385, 5.29), [0, 1, 2, 3], .5, R5, .5)
poly(ax, b_grey, GREY)
points(ax, b_spike_x, b_spike_y, GREY, size=30, marker="D", z=2)
line(ax, b_line_x, b_line_y, lw=2.2)
ax.annotate("", xy=(.5, .24), xytext=(.353, 2.92), arrowprops=dict(arrowstyle="-|>", color="black", lw=1.5, mutation_scale=14), zorder=7)
ax.annotate("", xy=(3.31, .077), xytext=(3.05, 1.83), arrowprops=dict(arrowstyle="-|>", color="black", lw=1.5, mutation_scale=14), zorder=7)

# panel c
ax = make_axes(*COLS[2], *ROWS[0], (-2.02, 4.03), (-.385, 5.29), [-2, -1, 0, 1, 2, 3, 4], None, R5, .5)
bands(ax, c_lev, c_start, c_red_end, c_blk_start, c_blk_end)
poly(ax, c_red, RED, hatch=".")
poly(ax, c_grey, GREY, z=3)
poly(ax, c_black, "black", hatch=".", z=4)
poly(ax, c_patch, RED, hatch=".", z=5)
outline(ax, c_blue)

# panels d, e, f
ax = make_axes(*COLS[0], *ROWS[1], (-.0096, .527), (-.39, 5.29), D5, .05, R5, .5, xfmt="%.1f")
poly(ax, d_grey, GREY)
bands(ax, d_lev, d_start, d_red_end, d_blk_start, d_blk_end)
poly(ax, d_red, RED, hatch=".", z=3)
poly(ax, d_pocket, GREY, z=3)
poly(ax, d_black, "black", hatch=".", z=4)
outline(ax, d_blue)

ax = make_axes(*COLS[1], *ROWS[1], (-.01, .53), (-.39, 5.29), D5, .05, R5, .5, xfmt="%.1f")
poly(ax, e_grey, GREY)
bands(ax, e_lev, e_start, e_red_end, e_blk_start, e_blk_end)
poly(ax, e_red, RED, hatch=".", z=3)
poly(ax, e_pocket, GREY, z=3)
poly(ax, e_black, "black", hatch=".", z=4)
poly(ax, e_streak, GREY, z=4)
outline(ax, e_blue)

ax = make_axes(*COLS[2], *ROWS[1], (-.01, .53), (-.39, 5.29), D5, .05, R5, .5, xfmt="%.1f")
bands(ax, f_lev, f_start, f_red_end, f_blk_start, f_blk_end)
poly(ax, f_red, RED, hatch=".", z=3)
poly(ax, f_grey, GREY, hatch=".", z=3)
poly(ax, f_black, "black", hatch=".", z=4)
outline(ax, f_blue)

# panels g, h, i
ax = make_axes(*COLS[0], *ROWS[2], (-.6875, 3.5), (-.01, .521), [0, 1, 2, 3], .5, D5, .05, yfmt="%.1f")
poly(ax, g_grey, GREY, hatch=".")
poly(ax, g_red, RED, hatch=".", z=3)
poly(ax, g_black, "black", hatch=".", z=4)
poly(ax, g_bar, "black", z=4)
outline(ax, g_blue)

ax = make_axes(*COLS[1], *ROWS[2], (-.7, 3.49), (-.01, .521), [0, 1, 2, 3], .5, D5, .05, yfmt="%.1f")
poly(ax, h_grey, GREY, hatch=".")
poly(ax, h_red, RED, hatch=".", z=3)
poly(ax, h_black, "black", hatch=".", z=4)
points(ax, h_pts_x, h_pts_y, "black", size=22)
outline(ax, h_blue)

ax = make_axes(*COLS[2], *ROWS[2], (-.69, 3.5), (-.01, .521), [0, 1, 2, 3], .5, D5, .05, yfmt="%.1f")
poly(ax, i_grey, GREY)
poly(ax, i_red, RED, z=3)
poly(ax, i_black, "black", hatch=".", z=4)
for patch in (i_patch1, i_patch2, i_patch3, i_patch4, i_patch5, i_patch6):
    poly(ax, patch, RED, hatch=".", hatch_color="black", z=5)
outline(ax, i_blue)

# panels j, k
ax = make_axes(*COLS[0], *ROWS[3], (0, 1400), (-.0125, .528), [0, 250, 500, 750, 1000, 1250], 125, D5, .05, yfmt="%.1f")
poly(ax, j_grey, GREY, hatch=".")
poly(ax, j_red, RED, hatch=".", z=3)
poly(ax, j_black, "black", hatch=".", z=4)
points(ax, j_pts_x, j_pts_y, "black", size=24)

ax = make_axes(*COLS[1], *ROWS[3], (0, 1399), (-.0125, .528), [0, 250, 500, 750, 1000, 1250], 125, D5, .05, yfmt="%.1f")
poly(ax, k_grey, GREY, hatch=".")
poly(ax, k_red, RED, hatch=".", z=3)
poly(ax, k_black, "black", hatch=".", z=4)
points(ax, k_pts_x, k_pts_y, "black", size=24)

# panel l
ax = make_axes(*COLS[2], *ROWS[3], (-6.04, 4.09), (-6.05, 3.71), list(range(-6, 5)), .5, list(range(-6, 4)), .5)
poly(ax, l_grey, GREY)
points(ax, l_grey_x, l_grey_y, GREY, size=22, z=2)
poly(ax, l_red, RED, hatch=".", z=3)
poly(ax, l_mix, RED, hatch=".", hatch_color=GREY, z=3)
points(ax, l_red_x, l_red_y, RED, size=22, z=3)
poly(ax, l_black, "black", z=4)
outline(ax, l_blue)
line(ax, l_fit_x, l_fit_y, color="#808080", lw=3.4, z=7)
line(ax, l_key_x, l_key_y, color="#808080", lw=3.4, z=7)

# panel letters
letters = ["a", "b", "c", "d", "e", "f", "g", "h", "i", "j", "k", "l"]
letter_x = [212, 1463, 2727] * 4
letter_y = [121] * 3 + [1417] * 3 + [2719] * 3 + [4010] * 3
for s, x, y in zip(letters, letter_x, letter_y):
    txt(x, y, s, size=14)

# axis titles
A_DOT = r"$\dot{\mathbfit{\alpha}}$"
REFF = r"$\mathbfit{r}_{\mathbf{eff}}$, µm"
txt(746, 65, "Approx. eff. rad., µm", size=33, weight="bold")
txt(864, 1385, r"$\mathbfit{\alpha}$(355), Mm$^{\mathbf{-1}}$", size=34, weight="bold")
txt(2026, 1345, A_DOT, size=40, weight="bold")
txt(3160, 1385, r"$\dot{\mathit{\beta}}$(532/1064)", size=30)
txt(754, 2689, r"$\mathbfit{\delta}$(355)", size=35, weight="bold")
txt(2017, 2689, r"$\mathbfit{\delta}$(532)", size=35, weight="bold")
txt(3275, 2689, r"$\mathbfit{\delta}$(1064)", size=35, weight="bold")
txt(667, 3985, A_DOT, size=40, weight="bold")
txt(1949, 3985, A_DOT, size=40, weight="bold")
txt(3207, 3985, A_DOT, size=40, weight="bold")
txt(752, 5285, r"$\mathbfit{\Lambda}$(355), sr", size=33, weight="bold")
txt(2017, 5285, r"$\mathbfit{\Lambda}$(532), sr", size=33, weight="bold")
txt(3239, 5275, r"$\dot{\mathit{\beta}}^{\perp}$(355 / 532)", size=33)

txt(105, 770, r"$\mathbfit{s}$, Mm$^{\mathbf{-1}}$", size=34, rot=90, weight="bold")
txt(1357, 743, REFF, size=33, rot=90, weight="bold")
txt(2630, 743, REFF, size=33, rot=90, weight="bold")
txt(117, 2040, REFF, size=33, rot=90, weight="bold")
txt(1385, 2040, REFF, size=33, rot=90, weight="bold")
txt(2650, 2040, REFF, size=33, rot=90, weight="bold")
txt(92, 3300, r"$\mathbfit{\delta}$(355)", size=33, rot=90, weight="bold")
txt(1333, 3275, r"$\mathbfit{\delta}$(532)", size=33, rot=90, weight="bold")
txt(2588, 3275, r"$\mathbfit{\delta}$(1064)", size=33, rot=90, weight="bold")
txt(92, 4570, r"$\mathbfit{\delta}$(355)", size=33, rot=90, weight="bold")
txt(1333, 4570, r"$\mathbfit{\delta}$(532)", size=33, rot=90, weight="bold")
txt(2636, 4620, r"$\dot{\mathit{\beta}}^{\perp}$(532 / 1064)", size=33, rot=90)

# notes inside panels
LIGHT_RED = "#ff3030"
txt(762, 260, r"$\mathit{y}$ = 1.731x", size=25, color=LIGHT_RED, ha="left")
txt(762, 346, "R² = 0.9999", size=25, color=LIGHT_RED, ha="left")
txt(287, 872, r"$\mathit{y}$ = 1.9x", size=25, color=LIGHT_RED, ha="left")
txt(450, 1115, r"$\mathit{y}$ = 1.1x", size=25, color=LIGHT_RED, ha="left")
txt(1696, 299, "y =-10x+0.5", size=23, color="#333333", ha="left")
txt(1729, 544, "y = -0.215x+0.392", size=23, color="#333333", ha="left")
txt(1998, 755, "y =-0.031x+0.16", size=23, color="#333333", ha="left")
txt(1904, 1020, "y = -0.08x+0.27", size=23, color="#333333", ha="left")
txt(2963, 4152, r"$\mathit{y}$=0.89$\mathit{x}$+0.72", size=27, color="#333333", ha="left")
txt(2963, 4255, r"$\mathit{R}^{2}$=0.87", size=27, color="#333333", ha="left")

fig.savefig("out.png", dpi=200, facecolor="white")
